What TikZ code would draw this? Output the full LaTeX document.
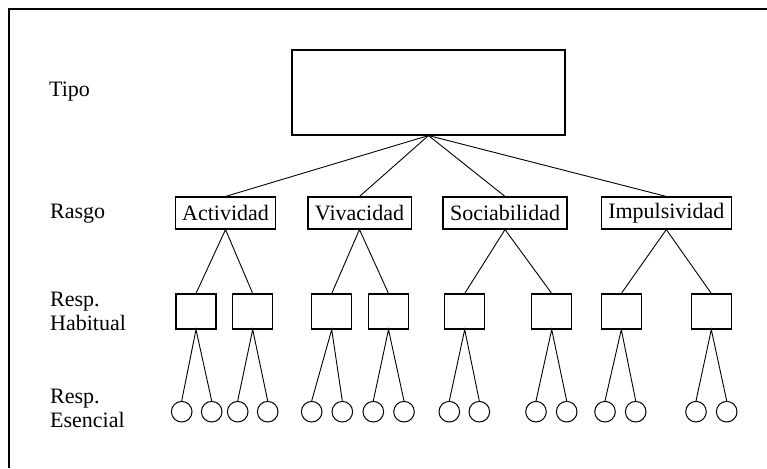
\documentclass[tikz,border=0pt]{standalone}
\usepackage{fontspec}
\setmainfont{Liberation Serif}

\begin{document}
\begin{tikzpicture}[x=1pt, y=-1pt,
  every node/.style={font=\fontsize{22}{24}\selectfont},
  tipobox/.style={draw, line width=1.1pt, minimum width=273pt, minimum height=85pt},
  rasgobox/.style={draw, line width=1.1pt, minimum height=32pt, inner xsep=7pt, inner ysep=0pt},
  habbox/.style={draw, line width=1.1pt, minimum width=40pt, minimum height=35pt, inner sep=0pt},
  esencial/.style={draw, circle, line width=1pt, minimum size=20.6pt, inner sep=0pt},
  nivel/.style={anchor=base west, align=left, inner sep=0pt},
  rama/.style={line width=0.9pt}]

  \useasboundingbox (0,0) rectangle (767,468);

  % --- Frame (only top and left edges are visible) ---
  \draw[line width=2pt] (9,468) -- (9,9) -- (767,9);

  % --- Level labels ---
  \node[nivel] (lTipo) at (49,97) {Tipo};
  \node[nivel] (lRasgo) at (50,218) {Rasgo};
  \node[nivel] (lHab) at (50,330.7) {Resp.\\Habitual};
  \node[nivel] (lEsen) at (50,427.7) {Resp.\\Esencial};

  % --- Type ---
  \node[tipobox] (tipo) at (428.5,92.5) {};

  % --- Traits ---
  \node[rasgobox] (act) at (225.5,213) {Actividad};
  \node[rasgobox] (viv) at (359.5,213) {Vivacidad};
  \node[rasgobox] (soc) at (505,213) {Sociabilidad};
  \node[rasgobox] (imp) at (666.3,213) {Impulsividad};

  % --- Habitual responses ---
  \node[habbox] (h1) at (196,311.5) {};
  \node[habbox] (h2) at (252.7,311.5) {};
  \node[habbox] (h3) at (331.7,311.5) {};
  \node[habbox] (h4) at (388.5,311.5) {};
  \node[habbox] (h5) at (464.7,311.5) {};
  \node[habbox] (h6) at (551.7,311.5) {};
  \node[habbox] (h7) at (621.3,311.5) {};
  \node[habbox] (h8) at (711.3,311.5) {};

  % --- Specific responses ---
  \node[esencial] (e1a) at (181.7,411.7) {};
  \node[esencial] (e1b) at (211.7,411.7) {};
  \node[esencial] (e2a) at (237.7,411.7) {};
  \node[esencial] (e2b) at (267.7,411.7) {};
  \node[esencial] (e3a) at (311.7,411.7) {};
  \node[esencial] (e3b) at (342.3,411.7) {};
  \node[esencial] (e4a) at (373.3,411.7) {};
  \node[esencial] (e4b) at (404,411.7) {};
  \node[esencial] (e5a) at (449.3,411.7) {};
  \node[esencial] (e5b) at (479.3,411.7) {};
  \node[esencial] (e6a) at (536,411.7) {};
  \node[esencial] (e6b) at (566.7,411.7) {};
  \node[esencial] (e7a) at (605,411.7) {};
  \node[esencial] (e7b) at (635.7,411.7) {};
  \node[esencial] (e8a) at (696,411.7) {};
  \node[esencial] (e8b) at (726.7,411.7) {};

  % --- Type to traits ---
  \draw[rama] (tipo.south) -- (act.north);
  \draw[rama] (tipo.south) -- (viv.north);
  \draw[rama] (tipo.south) -- (soc.north);
  \draw[rama] (tipo.south) -- (imp.north);

  % --- Traits to habitual responses ---
  \draw[rama] (h1.north) -- (act.south) -- (h2.north);
  \draw[rama] (h3.north) -- (viv.south) -- (h4.north);
  \draw[rama] (h5.north) -- (soc.south) -- (h6.north);
  \draw[rama] (h7.north) -- (imp.south) -- (h8.north);

  % --- Habitual to specific responses ---
  \draw[rama] (e1a.north) -- (h1.south) -- (e1b.north);
  \draw[rama] (e2a.north) -- (h2.south) -- (e2b.north);
  \draw[rama] (e3a.north) -- (h3.south) -- (e3b.north);
  \draw[rama] (e4a.north) -- (h4.south) -- (e4b.north);
  \draw[rama] (e5a.north) -- (h5.south) -- (e5b.north);
  \draw[rama] (e6a.north) -- (h6.south) -- (e6b.north);
  \draw[rama] (e7a.north) -- (h7.south) -- (e7b.north);
  \draw[rama] (e8a.north) -- (h8.south) -- (e8b.north);

\end{tikzpicture}
\end{document}
